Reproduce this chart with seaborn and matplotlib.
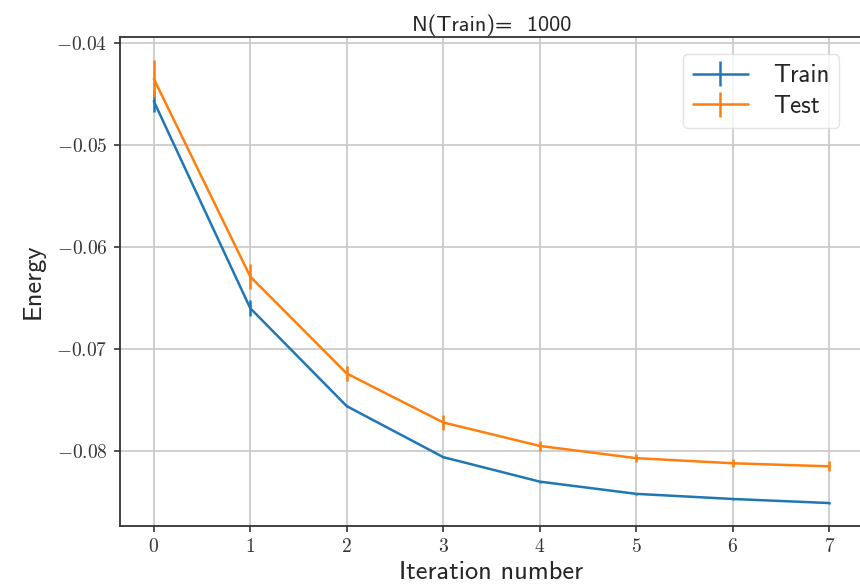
import matplotlib
matplotlib.use("Agg")
import matplotlib.pyplot as plt
import seaborn as sns
import numpy as np

iterations = [0, 1, 2, 3, 4, 5, 6, 7]
train_mean = [-0.0457, -0.0660, -0.0756, -0.0806, -0.0830, -0.0842, -0.0847, -0.0851]
train_err = [0.0011, 0.0008, 0.0001, 0.0001, 0.0001, 0.0001, 0.0001, 0.0001]
test_mean = [-0.0435, -0.0629, -0.0724, -0.0772, -0.0795, -0.0807, -0.0812, -0.0815]
test_err = [0.0018, 0.0012, 0.0007, 0.0007, 0.0005, 0.0004, 0.0004, 0.0005]
yticks = [-0.04, -0.05, -0.06, -0.07, -0.08]

sns.set_style("whitegrid")
plt.rcParams["mathtext.fontset"] = "cm"
plt.rcParams["font.family"] = ["cmss10", "DejaVu Sans"]
plt.rcParams["axes.unicode_minus"] = False

fig = plt.figure(figsize=(8.6, 5.86), dpi=100)
ax = fig.add_axes([120/860, 60/586, 743/860, 489/586])

pal = sns.color_palette("tab10")
ax.errorbar(iterations, train_mean, yerr=train_err, color=pal[0], lw=1.8, elinewidth=1.8,
            label="Train")
ax.errorbar(iterations, test_mean, yerr=test_err, color=pal[1], lw=1.8, elinewidth=1.8,
            label="Test")

ax.set_xlim(-0.35, 7.35)
ax.set_ylim(-0.08735, -0.03941)
ax.set_xticks(iterations)
ax.set_xticklabels([rf"${i}$" for i in iterations], fontsize=14)
ax.set_yticks(yticks)
ax.set_yticklabels([rf"$-{abs(v):.2f}$" for v in yticks], fontsize=14)
ax.tick_params(axis="both", which="both", length=4, width=1.2, color="#333333",
               left=True, bottom=True, labelcolor="#333333", pad=5)

ax.grid(True, color="#cccccc", lw=1.3)
for side in ["left", "bottom", "top"]:
    ax.spines[side].set_visible(True)
    ax.spines[side].set_color("#333333")
    ax.spines[side].set_linewidth(1.3)
ax.spines["right"].set_visible(False)

ax.set_xlabel("Iteration number", fontsize=19, labelpad=3)
ax.set_ylabel("Energy", fontsize=19, labelpad=8)
ax.set_title("N(Train)=  1000", fontsize=16, pad=4)

leg = ax.legend(loc="upper right", fontsize=18, frameon=True, handlelength=2.2,
                handletextpad=1.0, borderpad=0.4, labelspacing=0.3,
                bbox_to_anchor=(0.985, 0.99))
leg.get_frame().set_edgecolor("#dddddd")

fig.savefig("out.png", dpi=100)
